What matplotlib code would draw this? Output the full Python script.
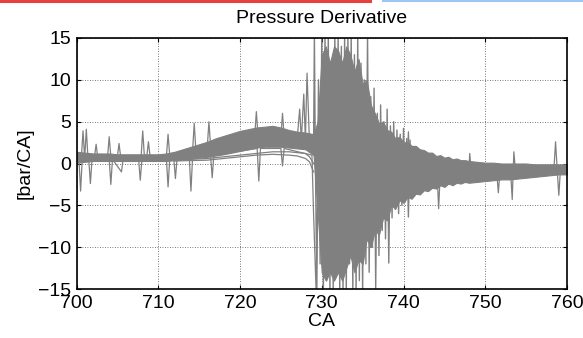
import matplotlib
matplotlib.use("Agg")
import matplotlib.pyplot as plt
from matplotlib.lines import Line2D

plt.rcParams['font.family'] = ['Liberation Sans', 'DejaVu Sans']

# Crank angle grid for the dense band of all cycles
ca = [700, 701, 702, 703, 704, 705, 706, 707, 708, 709, 710, 711, 712, 713, 714,
      715, 716, 717, 718, 719, 720, 721, 722, 723, 724, 725, 726, 727, 728, 729,
      729.5, 730, 730.5, 731, 731.5, 732, 732.5, 733, 733.5, 734, 734.5, 735, 735.5,
      736, 736.5, 737, 737.5, 738, 738.5, 739, 739.5, 740, 740.5, 741, 741.5, 742,
      742.5, 743, 743.5, 744, 744.5, 745, 745.5, 746, 746.5, 747, 747.5, 748,
      749, 750, 751, 752, 753, 754, 755, 756, 757, 758, 759, 760]
band_hi = [1.4, 1.3, 1.2, 1.2, 1.2, 1.1, 1.1, 1.1, 1.1, 1.1, 1.1, 1.2, 1.4, 1.7, 2.0,
           2.3, 2.6, 3.0, 3.3, 3.6, 3.9, 4.1, 4.3, 4.4, 4.5, 4.3, 4.0, 3.8, 3.7, 3.5,
           5.0, 13.0, 14.0, 12.0, 14.0, 13.5, 12.0, 14.0, 13.0, 11.0, 12.5, 9.5, 10.0,
           7.0, 6.0, 4.8, 5.0, 4.0, 3.8, 3.0, 3.2, 2.5, 2.6, 2.1, 2.1, 1.7,
           1.6, 1.3, 1.3, 0.9, 1.0, 0.7, 0.8, 0.5, 0.6, 0.4, 0.4, 0.3,
           0.2, 0.1, 0.1, 0.0, 0.0, 0.0, 0.0, -0.1, -0.1, -0.1, -0.1, -0.1]
band_lo = [0.1, 0.2, 0.3, 0.3, 0.3, 0.3, 0.3, 0.3, 0.3, 0.3, 0.3, 0.3, 0.4, 0.5, 0.6,
           0.7, 0.8, 0.95, 1.1, 1.3, 1.5, 1.7, 1.9, 2.0, 2.0, 2.0, 1.9, 1.8, 1.7, 1.0,
           -6.0, -13.0, -14.0, -13.0, -14.0, -13.0, -14.0, -12.5, -11.0, -13.0, -11.5, -12.0, -9.0,
           -10.0, -8.0, -8.5, -6.5, -6.8, -5.0, -5.4, -4.4, -4.7, -4.0, -4.2, -3.6, -3.7,
           -3.2, -3.3, -2.9, -3.0, -2.6, -2.8, -2.4, -2.6, -2.3, -2.4, -2.2, -2.3,
           -2.2, -2.1, -2.0, -1.9, -1.9, -1.8, -1.7, -1.6, -1.5, -1.4, -1.3, -1.3]

# Low cycles that stay below the band before combustion
low_ca = [712, 714, 716, 718, 720, 722, 724, 726, 727, 728, 728.5, 729.0]
low1_val = [0.4, 0.5, 0.6, 0.8, 1.0, 1.2, 1.4, 1.4, 1.3, 1.2, 0.8, 0.0]
low2_val = [0.3, 0.35, 0.4, 0.6, 0.8, 1.0, 1.1, 1.0, 0.9, 0.6, 0.2, -1.0]

# Individual cycles with upward spikes
up_ca = [700.0, 700.6, 700.8, 701.0, 701.2, 701.4, 702.2, 702.4, 702.6, 703.8, 704.0,
         704.2, 705.0, 705.2, 705.4, 707.9, 708.1, 708.3, 708.6, 708.8, 709.0, 711.0,
         711.2, 711.4, 714.2, 714.4, 714.6, 716.0, 716.2, 716.4, 719.0, 721.8, 722.0,
         722.2, 725.0, 725.2, 725.4, 727.0, 727.3, 727.5, 727.8, 728.0, 728.2, 728.5,
         729.0]
up_val = [0.8, 0.8, 3.9, 0.6, 4.1, 0.7, 0.8, 2.3, 0.7, 0.8, 3.2,
          0.8, 0.8, 2.4, 0.8, 0.8, 3.9, 0.9, 0.9, 2.6, 0.8, 0.9,
          3.5, 1.0, 1.5, 4.8, 1.6, 2.0, 5.0, 2.1, 2.6, 3.3, 6.2,
          3.4, 3.2, 6.0, 3.2, 3.0, 6.5, 2.8, 8.3, 2.8, 10.8, 2.5,
          2.0]

# Individual cycles with downward spikes
down_ca = [700.0, 700.3, 700.5, 700.7, 701.0, 701.5, 701.7, 701.9, 704.0, 704.2,
           704.4, 705.5, 705.7, 707.6, 707.8, 708.0, 711.0, 711.2, 711.4, 711.9,
           712.1, 712.3, 713.8, 714.0, 714.2, 716.4, 716.6, 716.8, 722.1, 722.3,
           722.5, 725.0, 725.2, 725.4, 728.8, 729.0, 729.3, 729.5]
down_val = [0.5, 0.5, -3.3, 0.5, 0.5, 0.5, -2.4, 0.5, 0.5, -2.5,
            0.5, -1.0, 0.5, 0.5, -2.0, 0.5, 0.5, -2.8, 0.5, 0.6,
            -1.8, 0.6, 0.7, -3.3, 0.8, 1.0, -1.7, 1.0, 1.8, -2.1,
            1.8, 1.8, -0.3, 1.8, 1.0, -6.0, -15.0, -4.0]

# Oscillating cycle through the combustion burst
zig_ca = [729.0, 729.1, 729.2, 729.4, 729.6, 729.8, 730.0, 730.2, 730.4, 730.6, 730.8,
          731.0, 731.2, 731.4, 731.6, 731.8, 732.0, 732.2, 732.4, 732.6, 732.8,
          733.0, 733.2, 733.4, 733.6, 733.8, 734.0, 734.2, 734.4, 734.6, 734.8,
          735.0, 735.2, 735.4, 735.6, 735.8, 736.0, 736.2, 736.4, 736.6, 736.8,
          737.0, 737.2, 737.4, 737.6, 737.8, 738.0, 738.2, 738.4, 738.6, 738.8,
          739.0, 739.2, 739.4, 739.6, 739.8, 740.0, 740.2, 740.4, 740.6, 740.8,
          741.0]
zig_val = [2.0, 15.5, 2.0, -15.0, 10.0, -12.0, 15.5, -15.5, 15.5, -14.0, 15.5,
           -15.5, 12.0, -15.5, 15.5, -13.0, 15.5, -15.5, 14.0, -15.5, 15.5,
           -15.5, 15.5, -12.0, 15.5, -15.5, 13.0, -15.5, 15.5, -14.0, 12.0,
           -15.5, 10.0, -12.0, 15.5, -13.0, 8.0, -10.0, 9.0, -15.0, 6.0,
           -11.0, 7.0, -8.0, 5.0, -9.0, 6.5, -11.9, 4.5, -6.5, 5.0,
           -5.5, 4.0, -6.0, 3.5, -5.0, 4.2, -4.6, 3.0, -6.4, 2.8,
           -4.2]

# Late cycles after combustion
late_ca = [740.4, 740.6, 740.8, 744.1, 744.3, 744.5, 748.0, 748.1, 748.3, 751.4,
           751.6, 751.8, 753.1, 753.3, 753.5, 753.7, 758.4, 758.6, 758.8, 759.0,
           759.2, 760.0]
late_val = [-0.8, 3.8, -0.8, -1.0, -5.4, -1.0, -1.0, 1.2, -1.0, -1.0,
            -3.5, -1.0, -0.9, -4.3, 1.4, -0.9, -0.7, 2.6, -0.7, -3.8,
            -0.7, -0.7]

x_ticks = [700, 710, 720, 730, 740, 750, 760]
y_ticks = [-15, -10, -5, 0, 5, 10, 15]

W, H = 583, 338
fig = plt.figure(figsize=(W / 100, H / 100), dpi=100)
ax = fig.add_axes([76.5 / W, (H - 289) / H, (567 - 76.5) / W, (289 - 38) / H])

gray = '#808080'
ax.fill_between(ca, band_lo, band_hi, color=gray, lw=0.8, zorder=2)
ax.plot(low_ca, low1_val, color=gray, lw=0.9, zorder=2)
ax.plot(low_ca, low2_val, color=gray, lw=0.9, zorder=2)
ax.plot(up_ca, up_val, color=gray, lw=0.9, zorder=2)
ax.plot(down_ca, down_val, color=gray, lw=0.9, zorder=2)
ax.plot(zig_ca, zig_val, color=gray, lw=1.0, zorder=2)
ax.plot(late_ca, late_val, color=gray, lw=0.9, zorder=2)

ax.set_xlim(700, 760)
ax.set_ylim(-15, 15)
ax.set_xticks(x_ticks)
ax.set_yticks(y_ticks)
ax.grid(True, color='0.3', linestyle=(0, (1, 2)), linewidth=0.6, zorder=1)
ax.set_axisbelow(True)
ax.tick_params(direction='in', length=3, width=0.8, top=True, right=True,
               labelsize=14, colors='black')
ax.tick_params(axis='x', pad=4)
ax.tick_params(axis='y', pad=4)
for s in ax.spines.values():
    s.set_linewidth(1.2)
    s.set_zorder(5)

ax.set_title('Pressure Derivative', fontsize=14, pad=11)
ax.set_xlabel('CA', fontsize=14, labelpad=1)
ax.set_ylabel('[bar/CA]', fontsize=14, labelpad=3)

# page decoration lines at the top edge
fig.add_artist(Line2D([0, 370 / W], [1 - 1 / H, 1 - 1 / H], color='#e8403f', lw=2.2,
                      transform=fig.transFigure))
fig.add_artist(Line2D([383 / W, 1], [1 - 0.5 / H, 1 - 0.5 / H], color='#9ec5f5', lw=1.5,
                      transform=fig.transFigure))

fig.savefig('out.png', dpi=100)
